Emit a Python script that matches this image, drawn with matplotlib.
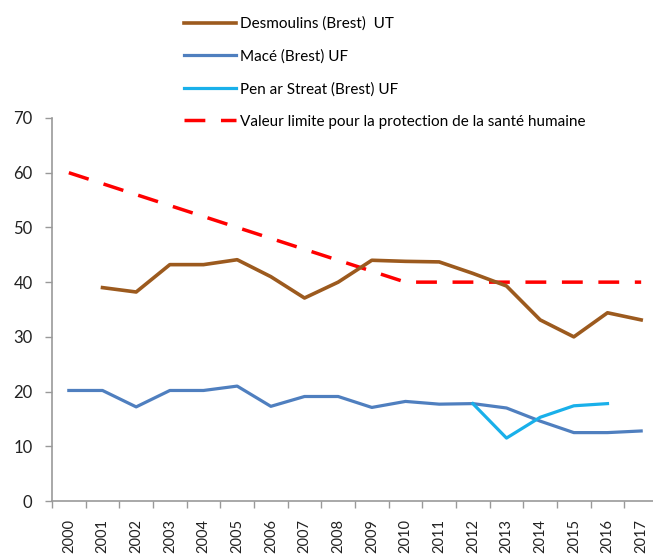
import matplotlib.pyplot as plt
import numpy as np

plt.rcParams['font.family'] = ['Lato', 'DejaVu Sans']

# années et séries (µg/m3)
annees = [str(a) for a in range(2000, 2018)]
desmoulins = [np.nan, 39.0, 38.2, 43.2, 43.2, 44.1, 41.0, 37.1, 40.0, 44.0,
              43.8, 43.7, 41.6, 39.3, 33.1, 30.0, 34.4, 33.1]
mace = [20.2, 20.2, 17.2, 20.2, 20.2, 21.0, 17.3, 19.1, 19.1, 17.1,
        18.2, 17.7, 17.8, 17.0, 14.6, 12.5, 12.5, 12.8]
pen_ar_streat = [np.nan] * 12 + [17.8, 11.5, 15.3, 17.4, 17.8, np.nan]
valeur_limite = [60, 58, 56, 54, 52, 50, 48, 46, 44, 42,
                 40, 40, 40, 40, 40, 40, 40, 40]

fig = plt.figure(figsize=(6.53, 5.54), dpi=100)
# la zone de tracé déborde un peu à droite
ax = fig.add_axes([52 / 653, 53 / 554, 606 / 653, 383 / 554])

x = np.arange(len(annees))
ax.plot(x, valeur_limite, color='#FF0000', lw=2.5, dashes=(6, 4.5),
        label='Valeur limite pour la protection de la santé humaine', zorder=2)
ax.plot(x, desmoulins, color='#9C5A1E', lw=2.6,
        label='Desmoulins (Brest)  UT', zorder=3)
ax.plot(x, mace, color='#4F7FBF', lw=2.3, label='Macé (Brest) UF', zorder=3)
ax.plot(x, pen_ar_streat, color='#19B0EA', lw=2.3,
        label='Pen ar Streat (Brest) UF', zorder=4)

ax.set_xlim(-0.5, 17.5)
ax.set_ylim(0, 70)
ax.set_yticks(range(0, 71, 10))
ax.set_xticks(x)
ax.set_xticklabels(annees, rotation=90, fontsize=10.5, color='#222222')
ax.set_xticks(np.arange(-0.5, 18, 1), minor=True)
ax.tick_params(axis='x', which='major', length=0, pad=13)
ax.tick_params(axis='x', which='minor', length=5, color='#999999', width=1)
ax.tick_params(axis='y', length=5, color='#999999', width=1,
               labelsize=12, labelcolor='#222222', pad=9)

for s in ['top', 'right']:
    ax.spines[s].set_visible(False)
for s in ['left', 'bottom']:
    ax.spines[s].set_color('#999999')
    ax.spines[s].set_linewidth(1.2)

# légende en haut, dans l'ordre des stations
h, l = ax.get_legend_handles_labels()
ordre = [1, 2, 3, 0]
fig.legend([h[i] for i in ordre], [l[i] for i in ordre],
           loc='upper left', bbox_to_anchor=(170 / 653, 1 - 3 / 554),
           frameon=False, fontsize=11, handlelength=3.4,
           handletextpad=0.3, labelspacing=1.2)

fig.savefig('out.png', dpi=100)
